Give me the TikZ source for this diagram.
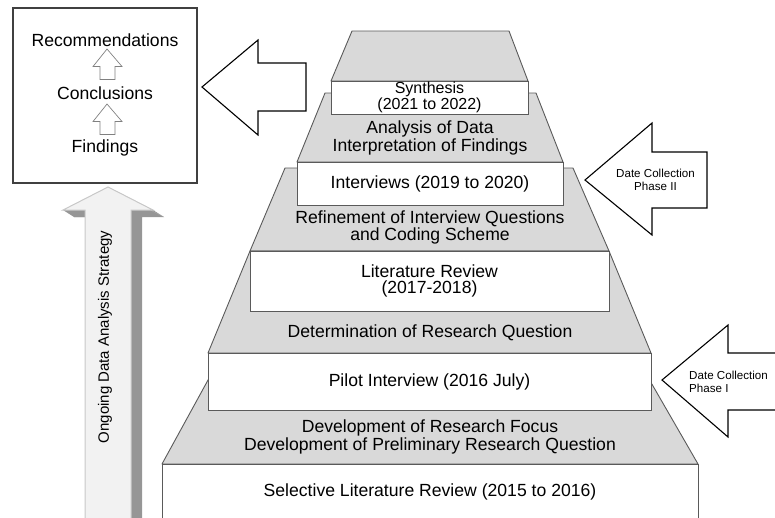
\documentclass[tikz,border=0pt]{standalone}
\usepackage{fontspec}
\setmainfont{Liberation Sans}

\definecolor{tiergray}{RGB}{217,217,217}
\definecolor{edgegray}{RGB}{90,90,90}
\definecolor{framegray}{RGB}{64,64,64}
\definecolor{shaftlight}{RGB}{242,242,242}
\definecolor{shaftedge}{RGB}{200,200,200}
\definecolor{shaftdark}{RGB}{150,150,150}
\definecolor{minoredge}{RGB}{128,128,128}

\newcommand\stagefont{\fontsize{17.6}{16}\selectfont}
\newcommand\synthfont{\fontsize{16}{14.5}\selectfont}
\newcommand\phasefont{\fontsize{11.6}{13}\selectfont}
\newcommand\strategyfont{\fontsize{15}{17}\selectfont}

\tikzset{
  % Pyramid tiers
  tier/.style       = { fill=tiergray, draw=edgegray, line width=0.9pt, line join=round },
  stagebox/.style   = { draw=edgegray, line width=0.9pt, fill=white, inner sep=0,
                        align=center, font=\stagefont },
  tierlabel/.style  = { align=center, font=\stagefont, inner sep=0 },
  % Block arrows
  bigarrow/.style   = { draw=black, line width=1.1pt, fill=white },
  minorarrow/.style = { draw=minoredge, line width=0.7pt, fill=white },
  phaselabel/.style = { align=center, font=\phasefont, inner sep=0 },
  % Outcome panel
  outcomebox/.style   = { draw=framegray, line width=1.2pt, fill=white, inner sep=0 },
  outcomelabel/.style = { font=\stagefont, inner sep=0 }
}

\begin{document}
\begin{tikzpicture}[x=1pt, y=-1pt]
  \path[use as bounding box] (0,0) rectangle (775,517);
  \clip (0,0) rectangle (775,517);

  % --- Ongoing strategy arrow (front face plus dark extrusion) -------
  \fill[shaftdark, shift={(11,7)}] (108,187) -- (153,210) -- (131,210) -- (131,530)
    -- (85,530) -- (85,210) -- (63,210) -- cycle;
  \fill[shaftdark] (108,187) -- (153,210) -- (164,217) -- (119,194) -- cycle;
  \fill[shaftdark] (63,210) -- (85,210) -- (96,217) -- (74,217) -- cycle;
  \draw[shaftedge, fill=shaftlight, line width=1pt] (108,187) -- (153,210) -- (131,210)
    -- (131,530) -- (85,530) -- (85,210) -- (63,210) -- cycle;
  \node[rotate=90, font=\strategyfont] (strategy) at (105,337) {Ongoing Data Analysis Strategy};

  % --- Outcome panel --------------------------------------------------
  \node[outcomebox, minimum width=184pt, minimum height=175pt] (outcomes) at (105,95.5) {};
  \node[outcomelabel, anchor=base] (recommend) at (105,46)  {Recommendations};
  \node[outcomelabel, anchor=base] (conclude)  at (105,99)  {Conclusions};
  \node[outcomelabel, anchor=base] (findings)  at (105,152) {Findings};
  \foreach \y in {49,104}
    \draw[minorarrow] (107,\y) -- ++(15,17.5) -- ++(-7,0) -- ++(0,13) -- ++(-15,0)
      -- ++(0,-13) -- ++(-7,0) -- cycle;

  \draw[bigarrow] (202,87) -- (258,40) -- (258,63) -- (306,63) -- (306,111)
    -- (258,111) -- (258,135) -- cycle;

  % --- Pyramid: trapezoids first, boxes on top -------------------------
  \foreach \ty/\tl/\tr/\by/\bl/\br in {31/352/509/81/331/528, 93/325/536/162/297/563,
      168/285/573/251/250/609, 251/250/609/353/208/651, 360/219/638/464/162/698}
    \draw[tier] (\tl,\ty) -- (\tr,\ty) -- (\br,\by) -- (\bl,\by) -- cycle;

  \node[stagebox, font=\synthfont, minimum width=197pt, minimum height=33pt]
    (synthesis) at (429.5,97.5) {Synthesis\\(2021 to 2022)};
  \node[stagebox, minimum width=266pt, minimum height=43pt]
    (interviews) at (430,183.5) {Interviews (2019 to 2020)};
  \node[stagebox, minimum width=359pt, minimum height=60pt]
    (litreview) at (429.5,281) {Literature Review\\(2017-2018)};
  \node[stagebox, minimum width=443pt, minimum height=57pt]
    (pilot) at (429.5,381.5) {Pilot Interview (2016 July)};
  \node[stagebox, minimum width=536pt, minimum height=56pt]
    (selective) at (430,492) {Selective Literature Review (2015 to 2016)};

  \node[tierlabel] (analysis) at (430,138) {Analysis of Data\\Interpretation of Findings};
  \node[tierlabel] (refinement) at (430,227) {Refinement of Interview Questions\\and Coding Scheme};
  \node[tierlabel, anchor=base] (determination) at (430,337) {Determination of Research Question};
  \node[tierlabel] (development) at (430,437)
    {Development of Research Focus\\Development of Preliminary Research Question};

  % --- Data collection phases ------------------------------------------
  \draw[bigarrow] (585,180) -- (652,123) -- (652,152) -- (707,152) -- (707,208)
    -- (652,208) -- (652,235) -- cycle;
  \node[phaselabel] (phasetwo) at (655.5,180) {Date Collection\\Phase II};

  \draw[bigarrow] (662,380) -- (728,325) -- (728,353) -- (800,353) -- (800,410)
    -- (728,410) -- (728,437) -- cycle;
  \node[phaselabel, align=left, anchor=west] (phaseone) at (689,382) {Date Collection\\Phase I};

\end{tikzpicture}
\end{document}
